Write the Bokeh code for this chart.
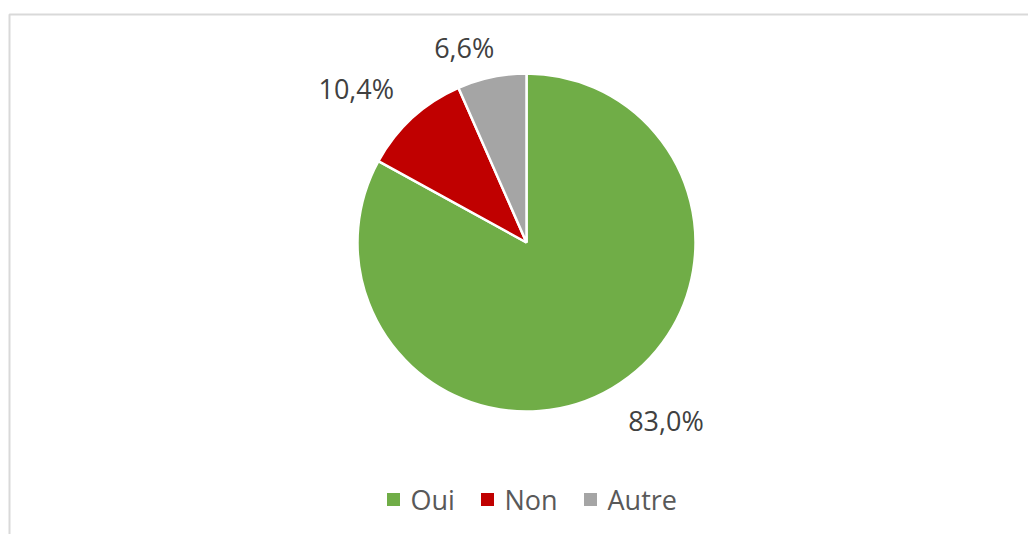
import math
from bokeh.plotting import figure
from bokeh.models import Range1d, ColumnDataSource
from bokeh.core.properties import value
from bokeh.embed import file_html
from bokeh.resources import INLINE

# ---- data ----
categories = ["Oui", "Non", "Autre"]
percents = [83.0, 10.4, 6.6]
colors = ["#70AD47", "#C00000", "#A5A5A5"]
labels = ["83,0%", "10,4%", "6,6%"]

# ---- layout constants ----
W, H = 1028, 534
CX, CY, R = 526, 292, 169
LABEL_R = 215
label_nudge = [(30, 7), (-25, -5), (-18, -15)]
FONT = "Open Sans"

p = figure(width=W, height=H, output_backend="svg", toolbar_location=None,
           x_range=Range1d(0, W), y_range=Range1d(0, H), min_border=0,
           background_fill_color="white", border_fill_color="white")
p.axis.visible = False
p.xgrid.visible = False
p.ygrid.visible = False
p.outline_line_color = None

# chart area border (left and top visible)
p.line(x=[9, 9, W], y=[0, 520, 520], line_color="#D9D9D9", line_width=2)

# wedges: clockwise from 12 o'clock
total = sum(percents)
starts, ends, mids = [], [], []
cur = 90.0
for v in percents:
    sweep = v / total * 360.0
    end_deg = cur
    start_deg = cur - sweep
    starts.append(math.radians(start_deg))
    ends.append(math.radians(end_deg))
    mids.append(math.radians((start_deg + end_deg) / 2))
    cur = start_deg

src = ColumnDataSource(dict(start=starts, end=ends, color=colors, cat=categories))
p.wedge(x=CX, y=CY, radius=R, start_angle="start", end_angle="end",
        direction="anticlock", fill_color="color", line_color="white",
        line_width=2.5, source=src)

# data labels
lx = [CX + LABEL_R * math.cos(m) + n[0] for m, n in zip(mids, label_nudge)]
ly = [CY + LABEL_R * math.sin(m) + n[1] for m, n in zip(mids, label_nudge)]
p.text(x=lx, y=ly, text=labels, text_font=value(FONT), text_font_size="27px",
       text_color="#404040", text_align="center", text_baseline="middle")

# legend (manual)
leg_sq_x = [393, 487, 590]
leg_y = 35
p.scatter(x=leg_sq_x, y=[leg_y] * 3, marker="square", size=13,
          fill_color=colors, line_color=None)
p.text(x=[x + 17 for x in leg_sq_x], y=[leg_y] * 3, text=categories,
       text_font=value(FONT), text_font_size="27px", text_color="#595959",
       text_align="left", text_baseline="middle")

open("out.html", "w").write(file_html(p, INLINE))
